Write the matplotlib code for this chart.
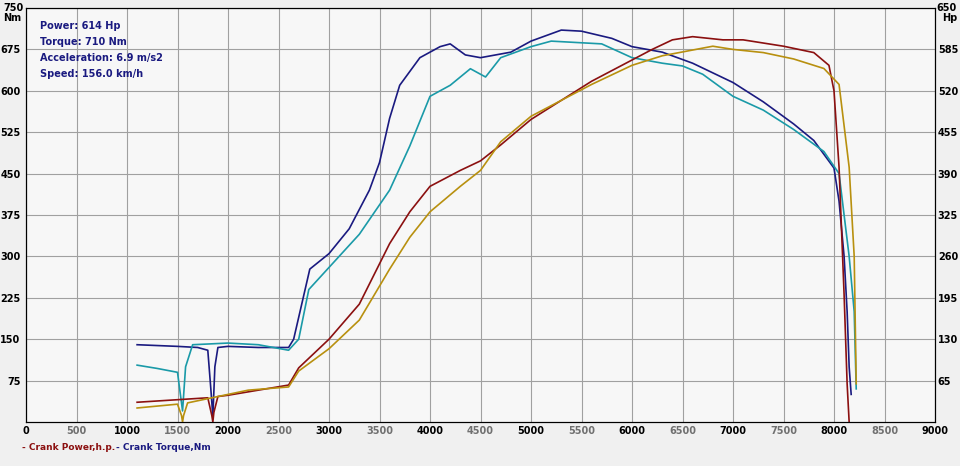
import matplotlib
matplotlib.use("Agg")
import matplotlib.pyplot as plt

navy_rpm = [1100,1500,1700,1800,1830,1850,1870,1900,2000,2300,2600,2650,2810,3000,3200,3400,3500,3600,3700,3900,4100,4200,4350,4500,4800,5000,5300,5500,5800,6000,6300,6600,7000,7300,7600,7800,8000,8050,8100,8130,8150,8170]
navy_nm = [140,137,135,130,60,10,100,135,137,135,135,150,277,305,350,420,470,550,610,660,680,685,665,660,670,690,710,708,695,680,670,650,615,580,540,510,460,400,300,200,100,50]
teal_rpm = [1100,1300,1500,1550,1580,1650,2000,2300,2600,2700,2800,3000,3300,3600,3800,4000,4200,4400,4550,4700,5000,5200,5700,6000,6300,6500,6700,7000,7300,7600,7900,8050,8150,8200,8220]
teal_nm = [103,97,90,20,100,140,143,140,130,150,240,280,340,420,500,590,610,640,625,660,680,690,685,660,650,645,630,590,565,530,490,450,300,200,60]
red_rpm = [1100,1500,1800,1840,1850,1860,1900,2000,2300,2600,2700,3000,3300,3600,3800,4000,4300,4500,4700,5000,5300,5600,5900,6200,6400,6600,6900,7100,7500,7800,7950,8000,8050,8100,8130,8150]
red_hp = [31,35,38,10,0,15,40,42,50,58,85,130,185,280,330,370,395,410,435,475,505,535,560,585,600,605,600,600,590,580,560,520,400,200,60,0]
gold_rpm = [1100,1500,1540,1550,1560,1600,1900,2200,2600,2700,3000,3300,3600,3800,4000,4300,4500,4700,5000,5300,5600,6000,6300,6800,7000,7300,7600,7900,8050,8150,8200,8220]
gold_hp = [22,28,10,0,10,30,40,50,55,80,115,160,240,290,330,370,395,440,480,505,530,560,575,590,585,580,570,555,530,400,260,60]

fig = plt.figure(figsize=(9.6,4.66), dpi=100, facecolor="#f0f0f0")
ax = fig.add_axes([26/960, 44/466, 909/960, 414/466])
ax.set_facecolor("#f7f7f7")
ax.set_xlim(0,9000); ax.set_ylim(0,750)
ax2 = ax.twinx(); ax2.set_ylim(0,650)
ax.plot(navy_rpm, navy_nm, color="#1a1a80", lw=1.2)
ax.plot(teal_rpm, teal_nm, color="#1a9aa8", lw=1.2)
ax2.plot(red_rpm, red_hp, color="#8b1010", lw=1.2)
ax2.plot(gold_rpm, gold_hp, color="#b8900f", lw=1.2)
ax.set_xticks(range(0,9001,500))
ax.set_yticks(range(75,751,75))
ax2.set_yticks(range(65,651,65))
ax.grid(True, color="#a0a0a0", lw=0.8)
ax.tick_params(length=0, labelsize=7, pad=3)
ax.tick_params(axis="y", pad=4)
ax2.tick_params(length=0, labelsize=7, pad=2)
for i,l in enumerate(ax.get_xticklabels()):
    l.set_fontweight("bold")
    l.set_color("black" if i%2==0 else "#707070")
for l in ax.get_yticklabels()+ax2.get_yticklabels():
    l.set_fontweight("bold")
ax.get_yticklabels()[-1].set_visible(False)
ax2.get_yticklabels()[-1].set_visible(False)
fig.text(3/960, 1-3/466, "750\nNm", fontsize=7, weight="bold", va="top", ha="left", linespacing=0.95)
fig.text(957/960, 1-3/466, "650\nHp", fontsize=7, weight="bold", va="top", ha="right", linespacing=0.95)
info = ["Power: 614 Hp","Torque: 710 Nm","Acceleration: 6.9 m/s2","Speed: 156.0 km/h"]
for i,t in enumerate(info):
    fig.text(40/960, 1-(26+i*16)/466, t, fontsize=7, weight="bold", color="#1a1a80", va="center")
fig.text(22/960, 1-447/466, "- Crank Power,h.p.", fontsize=6.5, weight="bold", color="#8b1010", va="center")
fig.text(116/960, 1-447/466, "- Crank Torque,Nm", fontsize=6.5, weight="bold", color="#1a1a80", va="center")
fig.savefig("out.png", dpi=100, facecolor=fig.get_facecolor())
